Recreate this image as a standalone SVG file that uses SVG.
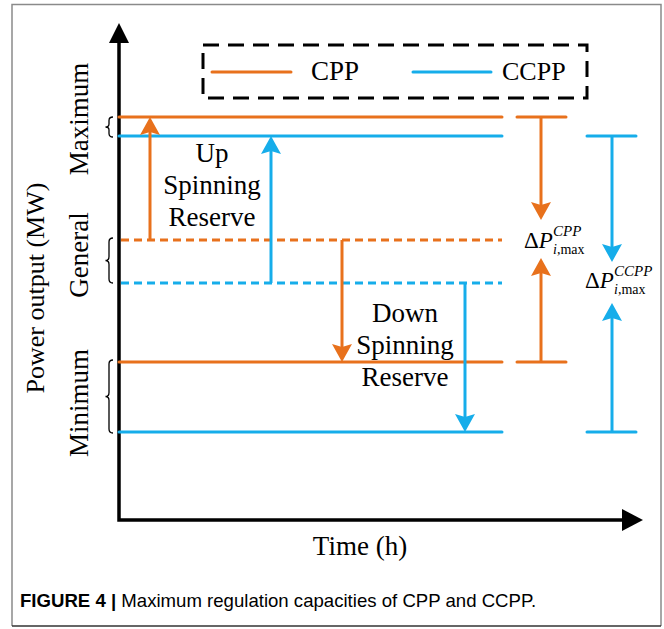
<svg xmlns="http://www.w3.org/2000/svg" width="664" height="629" viewBox="0 0 664 629">
<style>
.t{font-family:"Liberation Serif","Times New Roman",serif;fill:#000}
.lab{font-size:27px}
.o{stroke:#E8711C;fill:none;stroke-width:3}
.b{stroke:#16ADEA;fill:none;stroke-width:3}
.rc{stroke-linecap:round}
.dash{stroke-dasharray:8 5}
.ax{stroke:#000;stroke-width:3.5;fill:none}
.br{stroke:#000;stroke-width:1.3;fill:none}
.cap{font-family:"Liberation Sans",Arial,sans-serif;font-size:18.6px;fill:#000}
</style>
<defs>
<marker id="ao" viewBox="0 0 18 20" refX="8" refY="10" markerWidth="18" markerHeight="20" markerUnits="userSpaceOnUse" orient="auto">
<path d="M0,0 L18,10 L0,20 L3,10 z" fill="#E8711C"/>
</marker>
<marker id="ab" viewBox="0 0 18 20" refX="8" refY="10" markerWidth="18" markerHeight="20" markerUnits="userSpaceOnUse" orient="auto">
<path d="M0,0 L18,10 L0,20 L3,10 z" fill="#16ADEA"/>
</marker>
</defs>
<rect width="664" height="629" fill="#fff"/>
<g id="frame">
<path d="M12,626 L12,4.5 L661,4.5 L661,626" fill="none" stroke="#8a8a8a" stroke-width="1.5"/>
<line x1="12" y1="626" x2="661" y2="626" stroke="#333" stroke-width="1.5"/>
</g>
<g id="axes">
<path class="ax" d="M119,42 L119,520 L624,520"/>
<path d="M119,23 L109,43 L129,43 z" fill="#000"/>
<path d="M643,520 L622,509 L622,531 z" fill="#000"/>
<text class="t" x="360" y="555" font-size="27" text-anchor="middle">Time (h)</text>
<text class="t" transform="translate(44,288) rotate(-90)" font-size="26" text-anchor="middle">Power output (MW)</text>
</g>
<g id="legend">
<rect x="203" y="45" width="384" height="53" fill="none" stroke="#000" stroke-width="3" stroke-dasharray="16 9"/>
<line class="o rc" x1="212" y1="72" x2="291" y2="72"/>
<text class="t" x="311" y="80" font-size="27">CPP</text>
<line class="b rc" x1="413" y1="72" x2="491" y2="72"/>
<text class="t" x="502" y="80" font-size="26">CCPP</text>
</g>
<g id="level-maximum">
<text class="t lab" transform="translate(88,119) rotate(-90)" text-anchor="middle">Maximum</text>
<path class="br" d="M113,117 Q109,117 109,120.5 L109,124 Q109,127 105.5,127 Q109,127 109,130 L109,133.5 Q109,137 113,137"/>
</g>
<g id="level-general">
<text class="t lab" transform="translate(88,255) rotate(-90)" text-anchor="middle">General</text>
<path class="br" d="M113,238 Q109,238 109,242 L109,256.5 Q109,260.5 105.5,260.5 Q109,260.5 109,264.5 L109,279 Q109,283 113,283"/>
</g>
<g id="level-minimum">
<text class="t lab" transform="translate(88,403) rotate(-90)" text-anchor="middle">Minimum</text>
<path class="br" d="M113,360 Q109,360 109,364 L109,392.5 Q109,396.5 105.5,396.5 Q109,396.5 109,400.5 L109,429 Q109,433 113,433"/>
</g>
<g id="levels">
<line class="o rc" x1="119" y1="117" x2="502" y2="117"/>
<line class="b rc" x1="119" y1="136" x2="502" y2="136"/>
<line class="o dash" x1="121" y1="240" x2="502" y2="240"/>
<line class="b dash" x1="121" y1="283" x2="502" y2="283"/>
<line class="o rc" x1="119" y1="362" x2="502" y2="362"/>
<line class="b rc" x1="119" y1="432" x2="502" y2="432"/>
<line class="o rc" x1="517" y1="117" x2="566" y2="117"/>
<line class="o rc" x1="517" y1="362" x2="566" y2="362"/>
<line class="b rc" x1="587" y1="136" x2="636" y2="136"/>
<line class="b rc" x1="587" y1="432" x2="636" y2="432"/>
</g>
<g id="connectors">
<line class="o" x1="150" y1="240" x2="150" y2="127" marker-end="url(#ao)"/>
<line class="b" x1="271" y1="283" x2="271" y2="146" marker-end="url(#ab)"/>
<line class="o" x1="342" y1="240" x2="342" y2="352" marker-end="url(#ao)"/>
<line class="b" x1="465" y1="283" x2="465" y2="422" marker-end="url(#ab)"/>
<line class="o" x1="541" y1="117" x2="541" y2="210" marker-end="url(#ao)"/>
<line class="o" x1="541" y1="362" x2="541" y2="268" marker-end="url(#ao)"/>
<line class="b" x1="612" y1="136" x2="612" y2="252" marker-end="url(#ab)"/>
<line class="b" x1="612" y1="432" x2="612" y2="313" marker-end="url(#ab)"/>
</g>
<g id="up-spinning-reserve">
<text class="t lab" text-anchor="middle"><tspan x="212" y="162">Up</tspan><tspan x="212" y="194">Spinning</tspan><tspan x="212" y="226">Reserve</tspan></text>
</g>
<g id="down-spinning-reserve">
<text class="t lab" text-anchor="middle"><tspan x="405" y="322">Down</tspan><tspan x="405" y="354">Spinning</tspan><tspan x="405" y="386">Reserve</tspan></text>
</g>
<g id="delta-cpp">
<text class="t" x="524" y="248" font-size="23">Δ<tspan font-style="italic">P</tspan></text>
<text class="t" x="553" y="236" font-size="15" font-style="italic">CPP</text>
<text class="t" x="553" y="254" font-size="14"><tspan font-style="italic">i</tspan>,max</text>
</g>
<g id="delta-ccpp">
<text class="t" x="585" y="288" font-size="23">Δ<tspan font-style="italic">P</tspan></text>
<text class="t" x="614" y="276" font-size="15" font-style="italic">CCPP</text>
<text class="t" x="614" y="294" font-size="14"><tspan font-style="italic">i</tspan>,max</text>
</g>
<g id="caption">
<text class="cap" x="20" y="607"><tspan font-weight="bold">FIGURE 4 | </tspan>Maximum regulation capacities of CPP and CCPP.</text>
</g>
</svg>
